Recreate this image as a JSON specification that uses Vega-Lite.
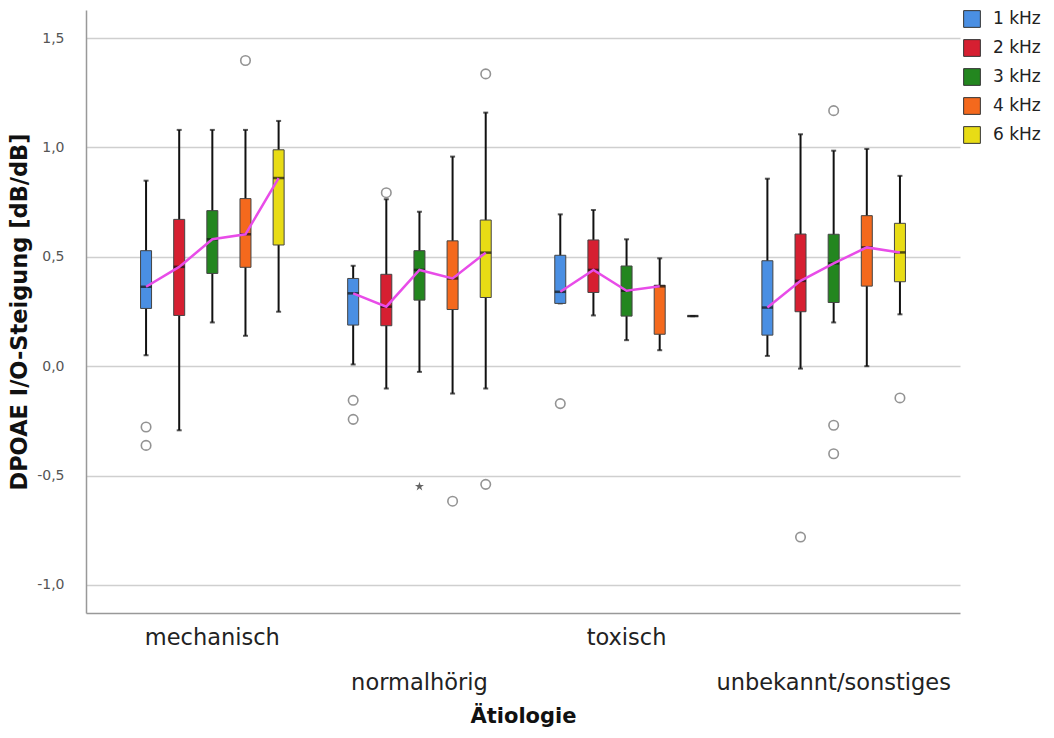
{
  "$schema": "https://vega.github.io/schema/vega-lite/v6.json",
  "width": 874,
  "height": 603,
  "autosize": "none",
  "padding": {"left": 86, "top": 10, "right": 94, "bottom": 125},
  "background": "white",
  "config": {
    "view": {"stroke": null},
    "font": "DejaVu Sans",
    "legend": {
      "orient": "none",
      "legendX": 877,
      "legendY": 0,
      "title": null,
      "symbolType": "square",
      "symbolSize": 280,
      "symbolStrokeColor": "#333",
      "symbolStrokeWidth": 1,
      "labelFontSize": 17,
      "labelFont": "DejaVu Sans",
      "labelColor": "#222",
      "rowPadding": 7,
      "labelOffset": 12
    }
  },
  "datasets": {
    "stats": [
      {"g": "mechanisch", "f": "1 kHz", "lo": 0.05, "q1": 0.264, "med": 0.363, "q3": 0.528, "hi": 0.848},
      {"g": "mechanisch", "f": "2 kHz", "lo": -0.293, "q1": 0.232, "med": 0.454, "q3": 0.671, "hi": 1.08},
      {"g": "mechanisch", "f": "3 kHz", "lo": 0.2, "q1": 0.424, "med": 0.58, "q3": 0.711, "hi": 1.08},
      {"g": "mechanisch", "f": "4 kHz", "lo": 0.139, "q1": 0.452, "med": 0.603, "q3": 0.766, "hi": 1.08},
      {"g": "mechanisch", "f": "6 kHz", "lo": 0.249, "q1": 0.554, "med": 0.86, "q3": 0.989, "hi": 1.121},
      {"g": "normalhörig", "f": "1 kHz", "lo": 0.008, "q1": 0.188, "med": 0.333, "q3": 0.401, "hi": 0.459},
      {"g": "normalhörig", "f": "2 kHz", "lo": -0.102, "q1": 0.185, "med": 0.272, "q3": 0.42, "hi": 0.763},
      {"g": "normalhörig", "f": "3 kHz", "lo": -0.026, "q1": 0.302, "med": 0.44, "q3": 0.528, "hi": 0.706},
      {"g": "normalhörig", "f": "4 kHz", "lo": -0.125, "q1": 0.259, "med": 0.401, "q3": 0.573, "hi": 0.958},
      {"g": "normalhörig", "f": "6 kHz", "lo": -0.102, "q1": 0.314, "med": 0.519, "q3": 0.668, "hi": 1.159},
      {"g": "toxisch", "f": "1 kHz", "lo": 0.287, "q1": 0.287, "med": 0.34, "q3": 0.507, "hi": 0.694},
      {"g": "toxisch", "f": "2 kHz", "lo": 0.232, "q1": 0.337, "med": 0.44, "q3": 0.577, "hi": 0.714},
      {"g": "toxisch", "f": "3 kHz", "lo": 0.119, "q1": 0.229, "med": 0.345, "q3": 0.458, "hi": 0.58},
      {"g": "toxisch", "f": "4 kHz", "lo": 0.073, "q1": 0.146, "med": 0.365, "q3": 0.37, "hi": 0.493},
      {"g": "toxisch", "f": "6 kHz", "lo": 0.229, "q1": 0.229, "med": 0.229, "q3": 0.229, "hi": 0.229},
      {"g": "unbekannt/sonstiges", "f": "1 kHz", "lo": 0.047, "q1": 0.142, "med": 0.268, "q3": 0.482, "hi": 0.857},
      {"g": "unbekannt/sonstiges", "f": "2 kHz", "lo": -0.011, "q1": 0.249, "med": 0.39, "q3": 0.604, "hi": 1.06},
      {"g": "unbekannt/sonstiges", "f": "3 kHz", "lo": 0.2, "q1": 0.291, "med": 0.47, "q3": 0.603, "hi": 0.985},
      {"g": "unbekannt/sonstiges", "f": "4 kHz", "lo": 0.0, "q1": 0.366, "med": 0.543, "q3": 0.688, "hi": 0.993},
      {"g": "unbekannt/sonstiges", "f": "6 kHz", "lo": 0.237, "q1": 0.386, "med": 0.52, "q3": 0.653, "hi": 0.87}
    ],
    "outliers": [
      {"g": "mechanisch", "f": "1 kHz", "v": -0.278, "kind": "o"},
      {"g": "mechanisch", "f": "1 kHz", "v": -0.362, "kind": "o"},
      {"g": "mechanisch", "f": "4 kHz", "v": 1.397, "kind": "o"},
      {"g": "normalhörig", "f": "1 kHz", "v": -0.156, "kind": "o"},
      {"g": "normalhörig", "f": "1 kHz", "v": -0.243, "kind": "o"},
      {"g": "normalhörig", "f": "2 kHz", "v": 0.793, "kind": "o"},
      {"g": "normalhörig", "f": "3 kHz", "v": -0.55, "kind": "star"},
      {"g": "normalhörig", "f": "4 kHz", "v": -0.617, "kind": "o"},
      {"g": "normalhörig", "f": "6 kHz", "v": 1.336, "kind": "o"},
      {"g": "normalhörig", "f": "6 kHz", "v": -0.54, "kind": "o"},
      {"g": "toxisch", "f": "1 kHz", "v": -0.171, "kind": "o"},
      {"g": "unbekannt/sonstiges", "f": "2 kHz", "v": -0.781, "kind": "o"},
      {"g": "unbekannt/sonstiges", "f": "3 kHz", "v": 1.168, "kind": "o"},
      {"g": "unbekannt/sonstiges", "f": "3 kHz", "v": -0.27, "kind": "o"},
      {"g": "unbekannt/sonstiges", "f": "3 kHz", "v": -0.4, "kind": "o"},
      {"g": "unbekannt/sonstiges", "f": "6 kHz", "v": -0.145, "kind": "o"}
    ]
  },
  "encoding": {
    "x": {
      "field": "g",
      "type": "nominal",
      "sort": ["mechanisch", "normalhörig", "toxisch", "unbekannt/sonstiges"],
      "scale": {"paddingInner": 0.2, "paddingOuter": 0.21},
      "axis": {
        "title": "Ätiologie",
        "titleFontSize": 21,
        "titleFontWeight": "bold",
        "titleColor": "#111",
        "titleY": 92,
        "titleBaseline": "top",
        "labelAngle": 0,
        "labelFontSize": 22.5,
        "labelColor": "#222",
        "labelOverlap": false,
        "labelBound": false,
        "labelLimit": 0,
        "labelPadding": {"condition": {"test": "datum.value == 'normalhörig' || datum.value == 'unbekannt/sonstiges'", "value": 58}, "value": 13},
        "ticks": false,
        "domainColor": "#999",
        "domainWidth": 1.5
      }
    },
    "xOffset": {
      "field": "f",
      "type": "nominal",
      "scale": {"domain": ["1 kHz", "2 kHz", "3 kHz", "4 kHz", "6 kHz"], "paddingInner": 0, "paddingOuter": 0}
    }
  },
  "layer": [
    {
      "data": {"name": "stats"},
      "mark": {"type": "rule", "color": "#111", "strokeWidth": 2},
      "encoding": {
        "y": {
          "field": "lo",
          "type": "quantitative",
          "scale": {"domain": [-1.128, 1.628], "nice": false, "zero": false},
          "axis": {
            "values": [-1, -0.5, 0, 0.5, 1, 1.5],
            "labelExpr": "replace(replace(format(datum.value, '.1f'), '.', ','), '\u2212', '-')",
            "grid": true,
            "gridColor": "#cfcfcf",
            "gridWidth": 1.5,
            "domainColor": "#999",
            "domainWidth": 1.5,
            "ticks": false,
            "labelPadding": 22,
            "labelFontSize": 14,
            "labelColor": "#555",
            "title": "DPOAE I/O-Steigung [dB/dB]",
            "titleFontSize": 22.5,
            "titleFontWeight": "bold",
            "titleColor": "#111",
            "titlePadding": 5
          }
        },
        "y2": {"field": "hi"}
      }
    },
    {
      "data": {"name": "stats"},
      "mark": {"type": "tick", "color": "#111", "thickness": 2, "size": 5},
      "encoding": {"y": {"field": "lo", "type": "quantitative"}}
    },
    {
      "data": {"name": "stats"},
      "mark": {"type": "tick", "color": "#111", "thickness": 2, "size": 5},
      "encoding": {"y": {"field": "hi", "type": "quantitative"}}
    },
    {
      "data": {"name": "stats"},
      "mark": {"type": "bar", "size": 11, "stroke": "#444", "strokeWidth": 1},
      "encoding": {
        "y": {"field": "q1", "type": "quantitative"},
        "y2": {"field": "q3"},
        "color": {
          "field": "f",
          "type": "nominal",
          "scale": {"domain": ["1 kHz", "2 kHz", "3 kHz", "4 kHz", "6 kHz"], "range": ["#4a8fe3", "#d61f31", "#23861f", "#f4691d", "#e8dc15"]}
        }
      }
    },
    {
      "data": {"name": "stats"},
      "mark": {"type": "tick", "color": "#111", "thickness": 2.5, "size": 11},
      "encoding": {"y": {"field": "med", "type": "quantitative"}}
    },
    {
      "data": {"name": "stats"},
      "transform": [{"filter": "!(datum.g == 'toxisch' && datum.f == '6 kHz')"}],
      "mark": {"type": "line", "color": "#e84ce8", "strokeWidth": 2.5},
      "encoding": {
        "y": {"field": "med", "type": "quantitative"},
        "detail": {"field": "g"},
        "order": {"field": "f", "type": "ordinal"}
      }
    },
    {
      "data": {"name": "outliers"},
      "transform": [{"filter": "datum.kind == 'o'"}],
      "mark": {"type": "point", "shape": "circle", "filled": false, "stroke": "#666", "strokeWidth": 1.6, "size": 90},
      "encoding": {"y": {"field": "v", "type": "quantitative"}}
    },
    {
      "data": {"name": "outliers"},
      "transform": [{"filter": "datum.kind == 'star'"}],
      "mark": {"type": "point", "shape": "M0,-1L0.22,-0.31L0.95,-0.31L0.36,0.12L0.59,0.81L0,0.38L-0.59,0.81L-0.36,0.12L-0.95,-0.31L-0.22,-0.31Z", "filled": true, "fill": "#222", "size": 90},
      "encoding": {"y": {"field": "v", "type": "quantitative"}}
    }
  ]
}
